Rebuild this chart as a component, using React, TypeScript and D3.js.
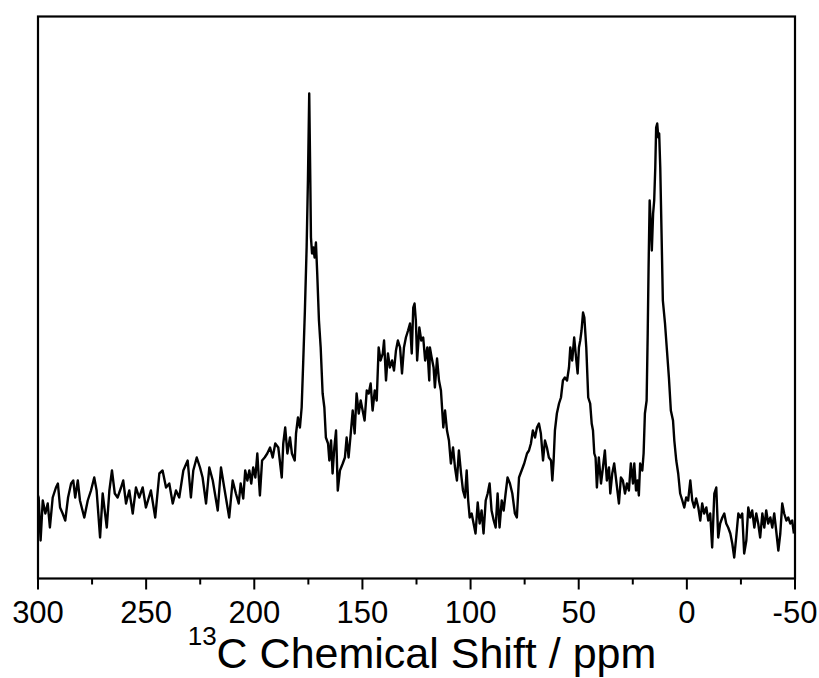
import React from "react";
import * as d3 from "d3";

// 13C CP-MAS NMR spectrum: [chemical shift (ppm), intensity (a.u.)]
const baselineHigh: [number, number][] = [
  [300, 83], [299.7, 81], [298.8, 38], [297.8, 78], [296.6, 65], [295.5, 75], [294.5, 51], [293.2, 81], [291.7, 91], [290.8, 95],
  [289.8, 71], [288.6, 65], [287.4, 58], [286.1, 81], [284.7, 95], [283.7, 98], [282.8, 81], [281.6, 98], [280.6, 78], [278.6, 61],
  [277, 78], [275.5, 88], [274, 101], [272.9, 88], [271.3, 41], [270.1, 85], [268.2, 51], [267, 88], [265.8, 108], [264.5, 85],
  [263.2, 81], [261.6, 91], [260.6, 98], [259.3, 75], [257.8, 88], [256.2, 65], [254.7, 91], [253.2, 81], [251.6, 91], [250.1, 71],
  [247.8, 88], [245.8, 61], [243.9, 105], [242.4, 108], [240.8, 91], [239.3, 95], [237.7, 75], [236.2, 88], [234.7, 81], [232.8, 108],
  [230.8, 118], [229.3, 81], [228.2, 108], [226.6, 121], [225.1, 111], [223.9, 101], [222.3, 75], [220.8, 111], [219.2, 98], [216.9, 68],
  [215.4, 111], [213.9, 91], [211.6, 61], [210, 98], [208.5, 85],
];

const carbonylAromatic: [number, number][] = [
  [207.2, 75], [206.3, 95], [205.1, 80], [204.2, 108], [203.2, 98], [202.3, 108], [201.4, 95], [200.5, 111], [199.5, 101], [198.6, 125],
  [197.4, 83], [196.4, 118], [195.2, 121], [194, 125], [192.7, 131], [191.5, 121], [190.3, 135], [188.9, 131], [187.3, 101], [186.6, 135],
  [185.7, 151], [184.7, 125], [183.5, 141], [182.6, 125], [181.3, 118], [180.7, 145], [179.8, 161], [178.9, 151], [178.1, 171], [177.4, 215],
  [176.6, 268], [175.8, 331], [175.2, 398], [174.6, 485], [174.1, 398], [173.8, 341], [173.3, 325], [172.7, 331], [172.1, 321], [171.5, 336],
  [170.9, 305], [170.1, 258], [169.3, 231], [168.4, 185], [167.6, 171], [166.9, 141], [165.9, 135], [165.3, 118], [164.5, 138], [163.8, 105],
  [163, 131], [162.2, 148], [161.4, 88], [160.4, 108], [159.1, 115], [158.1, 121], [157.3, 141], [156.4, 121], [155.4, 145], [154.5, 168],
  [153.6, 145], [152.7, 185], [151.7, 165], [150.8, 178], [149.9, 168], [149, 158], [148, 188], [147.1, 185], [146.2, 195], [145.3, 168],
  [144.3, 188], [143.4, 178], [142.5, 231], [141.6, 218], [140.6, 225], [140, 238], [139.1, 198], [138.2, 225], [137.3, 211], [136.3, 218],
  [135.4, 208], [134.5, 228], [133.6, 238], [132.6, 231], [131.7, 205], [130.8, 231], [129.9, 241], [128.9, 248], [128, 255], [127.2, 225],
  [126.5, 271], [125.9, 275], [125.3, 258], [124.7, 218], [123.7, 251], [122.8, 238], [121.9, 241], [121, 218], [120, 231], [119.1, 198],
];

const oxygenated: [number, number][] = [
  [118.8, 231], [118, 221], [117.1, 211], [116.5, 191], [115.5, 220], [114.6, 198], [113.7, 188], [112.6, 151], [111.8, 168], [110.9, 148],
  [110, 138], [109.1, 115], [108.1, 131], [107.2, 111], [106.3, 98], [105.4, 128], [104.4, 105], [103.5, 88], [102.6, 81], [101.8, 108],
  [101.1, 78], [100.4, 61], [99.5, 65], [98.6, 55], [97.7, 45], [96.7, 76], [95.8, 55], [94.9, 68], [94, 45], [93, 78],
  [92.1, 85], [91.2, 95], [90.3, 68], [89.3, 58], [88.4, 51], [87.5, 85], [86.6, 51], [85.6, 78], [84.7, 68], [83.8, 85],
  [82.9, 101], [81.8, 95], [80.7, 85], [79.5, 65], [78.6, 61], [77.6, 101], [76.4, 108], [75.2, 115], [73.9, 125], [73, 128],
  [72.1, 135], [71.2, 148], [70.2, 141], [69.3, 151], [68.4, 155], [67.5, 145], [66.5, 118], [65.6, 138], [64.7, 131], [63.8, 121],
  [62.8, 118], [62.2, 98], [61.6, 118], [61, 148], [60.1, 165], [59.1, 175], [58.2, 181], [57.3, 198], [56.4, 201], [55.4, 198],
  [54.5, 211], [53.9, 231], [53, 218], [52.1, 241], [51.1, 218], [50.5, 205], [49.9, 231], [49.3, 238], [48.7, 248], [48, 266],
  [47.4, 261], [46.5, 231], [45.6, 181], [44.7, 175], [44, 155], [43.4, 148], [42.8, 125], [42.2, 121], [41.6, 91], [40.7, 121],
  [39.7, 95], [38.8, 111], [37.9, 128], [37, 98], [36, 111], [35.4, 85], [34.5, 105], [33.6, 115],
];

const aliphatic: [number, number][] = [
  [31.4, 75], [30.5, 101], [29.6, 98], [28.6, 85], [27.7, 95], [26.8, 88], [25.9, 115], [24.9, 95], [24.3, 115], [23.5, 88],
  [22.8, 98], [22.2, 83], [21.6, 115], [20.6, 108], [20, 125], [19.4, 165], [18.6, 178], [18.1, 245], [17.7, 311], [17.2, 378],
  [16.6, 351], [16.2, 328], [15.6, 365], [15.1, 378], [14.6, 411], [14.2, 451], [13.7, 455], [13.2, 441], [12.8, 445], [12.3, 411],
  [11.7, 345], [11.1, 278], [10.1, 255], [9.2, 228], [8.3, 201], [7.4, 168], [6.4, 158], [5.8, 138], [4.9, 118], [4, 105],
  [3.1, 85], [2.1, 78], [1.2, 71], [0.3, 81], [-0.6, 78], [-1.6, 98], [-2.5, 78], [-3.4, 71], [-4.3, 80], [-5.3, 71],
  [-6.2, 58], [-7.1, 75], [-8, 65], [-9, 71], [-9.9, 58], [-10.8, 65], [-11.7, 31], [-12.7, 85], [-13.6, 91], [-14.5, 41],
  [-15.4, 55], [-16.4, 61], [-17.3, 65], [-18.2, 55], [-19.1, 51], [-20.1, 45], [-21, 35], [-21.9, 21], [-22.8, 41], [-23.8, 65],
  [-24.7, 61], [-25.6, 65], [-26.5, 25], [-27.5, 38], [-28.4, 71], [-29.3, 61], [-30.2, 68], [-31.2, 51], [-32.1, 65], [-33, 55],
  [-33.9, 41], [-34.9, 65], [-35.8, 51], [-36.7, 68], [-37.6, 55], [-38.6, 61], [-39.5, 51], [-40.4, 65], [-41.3, 48], [-42.3, 28],
  [-43.2, 45], [-44.1, 75], [-45, 65], [-46, 58], [-46.9, 61], [-47.8, 55], [-48.7, 58], [-49.5, 45],
];

const majorTicks = [300, 250, 200, 150, 100, 50, 0, -50];
const minorTicks = [275, 225, 175, 125, 75, 25, -25];
const xDomain: [number, number] = [300, -50];
const yDomain: [number, number] = [0, 562];

export default function App() {
  const W = 819;
  const H = 678;
  const left = 38;
  const right = 795;
  const top = 16.5;
  const bottom = 578.5;

  const x = d3.scaleLinear().domain(xDomain).range([left, right]);
  const y = d3.scaleLinear().domain(yDomain).range([bottom, top]);

  const data = [...baselineHigh, ...carbonylAromatic, ...oxygenated, ...aliphatic];
  const line = d3
    .line<[number, number]>()
    .x((d) => x(d[0]))
    .y((d) => y(d[1]));

  const font = "'Liberation Sans', Arial, sans-serif";

  return (
    <svg
      width={W}
      height={H}
      style={{ position: "absolute", left: 0, top: 0, background: "#fff" }}
    >
      <rect x={0} y={0} width={W} height={H} fill="#fff" />
      <path d={line(data) || ""} fill="none" stroke="#000" strokeWidth={2.4} strokeLinejoin="round" />
      <rect
        x={left}
        y={top}
        width={right - left}
        height={bottom - top}
        fill="none"
        stroke="#000"
        strokeWidth={2.2}
      />
      {majorTicks.map((t) => (
        <g key={"M" + t}>
          <line x1={x(t)} x2={x(t)} y1={bottom} y2={bottom + 11} stroke="#000" strokeWidth={2} />
          <text
            x={x(t)}
            y={623}
            textAnchor="middle"
            fontFamily={font}
            fontSize={31}
            fill="#000"
          >
            {String(t)}
          </text>
        </g>
      ))}
      {minorTicks.map((t) => (
        <line key={"m" + t} x1={x(t)} x2={x(t)} y1={bottom} y2={bottom + 6} stroke="#000" strokeWidth={2} />
      ))}
      <text x={422} y={668} textAnchor="middle" fontFamily={font} fontSize={43} fill="#000">
        <tspan fontSize={26} dy={-23}>13</tspan>
        <tspan dy={23}>C Chemical Shift / ppm</tspan>
      </text>
    </svg>
  );
}
